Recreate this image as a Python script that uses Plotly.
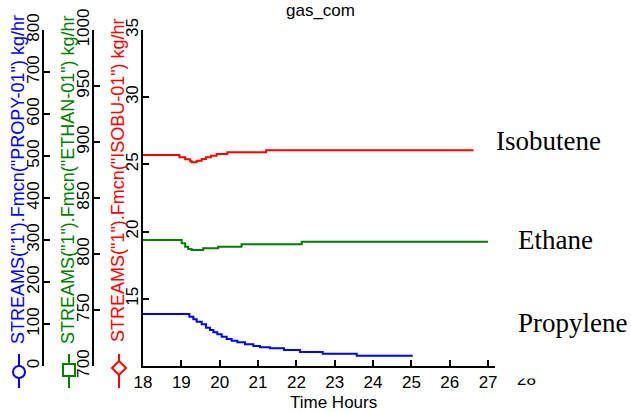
import plotly.graph_objects as go

W, H = 631, 412

# ---- data ----
propy_t = [18.0, 19.209, 19.313, 19.400, 19.531, 19.644, 19.748, 19.835, 19.939, 20.052,
           20.183, 20.313, 20.461, 20.661, 20.878, 21.052, 21.313, 21.678, 22.096, 22.687,
           23.574, 25.035]
propy_v = [123.8, 117.5, 111.1, 105.6, 99.2, 91.3, 85.7, 80.2, 75.4, 69.8,
           64.3, 60.3, 56.3, 51.6, 47.6, 44.4, 42.1, 38.1, 33.3, 29.4,
           24.6, 24.6]

ethan_t = [18.0, 19.01, 19.10, 19.18, 19.27, 19.57, 19.96, 20.57, 22.14, 27.0]
ethan_v = [812.5, 809.6, 806.5, 804.5, 803.6, 805.1, 806.5, 808.7, 811.0, 811.0]

isobu_t = [18.0, 18.95, 19.10, 19.23, 19.27, 19.40, 19.53, 19.64, 19.77, 19.92, 20.20, 21.21, 26.62]
isobu_v = [25.70, 25.53, 25.38, 25.23, 25.16, 25.28, 25.40, 25.53, 25.65, 25.77, 25.90, 26.05, 26.05]

x_ticks = list(range(18, 28))
propy_ticks = list(range(0, 801, 100))
ethan_ticks = list(range(700, 1001, 50))
isobu_ticks = [15, 20, 25, 30, 35]

title_text = "gas_com"
x_title = "Time Hours"
propy_title = 'STREAMS("1").Fmcn("PROPY-01") kg/hr'
ethan_title = 'STREAMS("1").Fmcn("ETHAN-01") kg/hr'
isobu_title = 'STREAMS("1").Fmcn("ISOBU-01") kg/hr'
labels = ["Isobutene", "Ethane", "Propylene"]

BLUE = "#0000ff"
GREEN = "#008000"
RED = "#ff0000"

def px(x):
    return x / W

def py(y):
    return 1 - y / H

fig = go.Figure()
fig.add_trace(go.Scatter(x=propy_t, y=propy_v, mode="lines", line=dict(color=BLUE, width=2, shape="hv"),
                         yaxis="y2", showlegend=False))
fig.add_trace(go.Scatter(x=ethan_t, y=ethan_v, mode="lines", line=dict(color=GREEN, width=2, shape="hv"),
                         yaxis="y3", showlegend=False))
fig.add_trace(go.Scatter(x=isobu_t, y=isobu_v, mode="lines", line=dict(color=RED, width=2, shape="hv"),
                         yaxis="y", showlegend=False))

ydom = [py(366), py(30)]
tickfont = dict(family="Arial, Liberation Sans, sans-serif", size=17, color="black")
common_y = dict(showgrid=False, zeroline=False, showline=True, linecolor="black", linewidth=2,
                ticks="inside", ticklen=6, tickwidth=2, tickcolor="black", tickangle=-90,
                tickfont=tickfont, automargin=False, ticklabelstandoff=-4)

fig.update_layout(
    width=W, height=H,
    margin=dict(l=0, r=0, t=0, b=0, autoexpand=False),
    paper_bgcolor="white", plot_bgcolor="white",
    xaxis=dict(domain=[px(143), px(495)], range=[18, 27.18], tickvals=x_ticks,
               showgrid=False, zeroline=False, showline=True, linecolor="black", linewidth=2,
               ticks="inside", ticklen=6, tickwidth=2, tickcolor="black", automargin=False,
               tickfont=dict(family="Arial, Liberation Sans, sans-serif", size=17, color="black")),
    yaxis=dict(domain=ydom, range=[10, 35], tickvals=isobu_ticks, anchor="x", **common_y),
    yaxis2=dict(range=[0, 800], tickvals=propy_ticks, overlaying="y", anchor="free",
                position=px(43), side="left", **common_y),
    yaxis3=dict(range=[700, 1000], tickvals=ethan_ticks, overlaying="y", anchor="free",
                position=px(93), side="left", **common_y),
)

ann = []
ann.append(dict(text=title_text, x=px(320), y=py(11), xref="paper", yref="paper", showarrow=False,
                font=dict(family="Arial, Liberation Sans, sans-serif", size=17, color="black"),
                xanchor="center", yanchor="middle"))
ann.append(dict(text=x_title, x=px(333), y=py(402), xref="paper", yref="paper", showarrow=False,
                font=dict(family="Arial, Liberation Sans, sans-serif", size=17, color="black"),
                xanchor="center", yanchor="middle"))
for txt, xc, col in [(propy_title, 18, BLUE), (ethan_title, 68, GREEN), (isobu_title, 118, RED)]:
    ann.append(dict(text=txt, x=px(xc), y=py(180), xref="paper", yref="paper", showarrow=False,
                    textangle=-90, font=dict(family="Arial, Liberation Sans, sans-serif", size=18, color=col),
                    xanchor="center", yanchor="middle"))
serif = dict(family="Liberation Serif, Times New Roman, serif", size=27, color="black")
for txt, xl, yc in zip(labels, [494, 516, 516], [141, 240, 323]):
    ann.append(dict(text=txt, x=px(xl), y=py(yc), xref="paper", yref="paper", showarrow=False,
                    font=serif, xanchor="left", yanchor="middle"))
# partially clipped "28" tick label
ann.append(dict(text="28", x=px(526), y=py(379), xref="paper", yref="paper", showarrow=False,
                font=dict(family="Arial, Liberation Sans, sans-serif", size=17, color="black"),
                xanchor="center", yanchor="middle"))
ann.append(dict(text=" ", x=px(526), y=py(366), xref="paper", yref="paper", showarrow=False,
                width=30, height=11, bgcolor="white", borderpad=0,
                xanchor="center", yanchor="top"))
fig.update_layout(annotations=ann)

# legend-like symbols under axis titles
shapes = []
for xc, col in [(19, BLUE), (69, GREEN), (119, RED)]:
    shapes.append(dict(type="line", xref="paper", yref="paper", x0=px(xc), x1=px(xc),
                       y0=py(354), y1=py(388), line=dict(color=col, width=2)))
shapes.append(dict(type="circle", xref="paper", yref="paper", x0=px(13), x1=px(25), y0=py(366), y1=py(378),
                   line=dict(color=BLUE, width=2), fillcolor="white"))
shapes.append(dict(type="rect", xref="paper", yref="paper", x0=px(63), x1=px(75), y0=py(364), y1=py(376),
                   line=dict(color=GREEN, width=2), fillcolor="white"))
dpath = "M {a},{b} L {c},{d} L {a},{e} L {f},{d} Z".format(
    a=px(119), b=py(361), c=px(126), d=py(368), e=py(375), f=px(112))
shapes.append(dict(type="path", xref="paper", yref="paper", path=dpath,
                   line=dict(color=RED, width=2), fillcolor="white"))
fig.update_layout(shapes=shapes)

fig.write_html("out.html")
